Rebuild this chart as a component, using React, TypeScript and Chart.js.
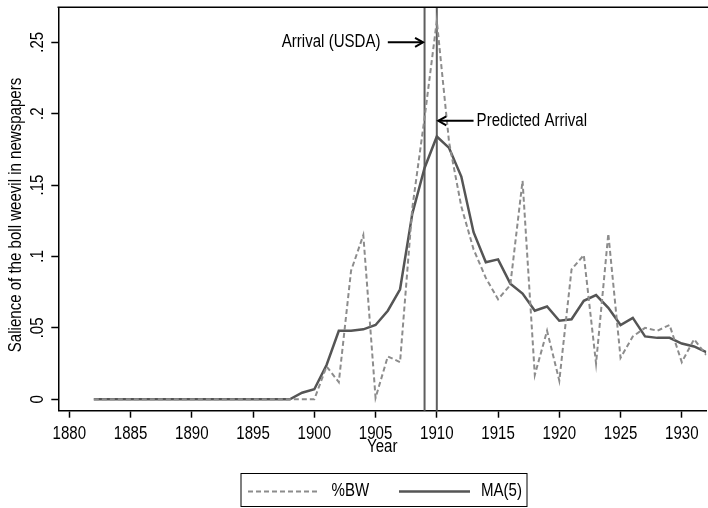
import React, { useEffect, useRef } from "react";
import { Chart, registerables } from "chart.js";

Chart.register(...registerables);

// ---------- data ----------
const years = [
  1882, 1883, 1884, 1885, 1886, 1887, 1888, 1889, 1890, 1891, 1892, 1893, 1894,
  1895, 1896, 1897, 1898, 1899, 1900, 1901, 1902, 1903, 1904, 1905, 1906, 1907,
  1908, 1909, 1910, 1911, 1912, 1913, 1914, 1915, 1916, 1917, 1918, 1919, 1920,
  1921, 1922, 1923, 1924, 1925, 1926, 1927, 1928, 1929, 1930, 1931, 1932,
];

// %BW (dashed)
const bwShare = [
  0, 0, 0, 0, 0, 0, 0, 0, 0, 0, 0, 0, 0,
  0, 0, 0, 0, 0, 0, 0.023, 0.012, 0.09, 0.115, 0.001, 0.03, 0.026,
  0.134, 0.197, 0.265, 0.18, 0.135, 0.105, 0.085, 0.07, 0.08, 0.153, 0.017, 0.048, 0.013,
  0.091, 0.101, 0.025, 0.116, 0.029, 0.044, 0.05, 0.048, 0.052, 0.026, 0.042, 0.031,
];

// MA(5) (solid)
const ma5 = [
  0, 0, 0, 0, 0, 0, 0, 0, 0, 0, 0, 0, 0,
  0, 0, 0, 0, 0.0046, 0.007, 0.024, 0.048, 0.048, 0.049, 0.052, 0.062, 0.077,
  0.13, 0.162, 0.184, 0.176, 0.156, 0.117, 0.096, 0.098, 0.081, 0.074, 0.062, 0.065, 0.055,
  0.056, 0.069, 0.073, 0.064, 0.052, 0.057, 0.044, 0.043, 0.043, 0.039, 0.037, 0.033,
];

const xTickValues = [1880, 1885, 1890, 1895, 1900, 1905, 1910, 1915, 1920, 1925, 1930];
const xTickLabels = ["1880", "1885", "1890", "1895", "1900", "1905", "1910", "1915", "1920", "1925", "1930"];
const yTickValues = [0, 0.05, 0.1, 0.15, 0.2, 0.25];
const yTickLabels = ["0", ".05", ".1", ".15", ".2", ".25"];

const seriesLabels = ["%BW", "MA(5)"];
const xTitle = "Year";
const yTitle = "Salience of the boll weevil in newspapers";

const arrivalUSDA = 1909;
const predictedArrival = 1910;
const usdaNote = "Arrival (USDA)";
const predictedNote = "Predicted Arrival";

// ---------- styling ----------
const FONT_FAMILY = '"Liberation Sans", Arial, Helvetica, sans-serif';
const FONT_SIZE = 17.5;
const SX = 0.86; // horizontal condensing of text
const DASH_COLOR = "#8c8c8c";
const SOLID_COLOR = "#555555";
const VLINE_COLOR = "#5e5e5e";

function drawText(
  ctx: CanvasRenderingContext2D,
  text: string,
  x: number,
  y: number,
  align: CanvasTextAlign,
  rotated = false
) {
  ctx.save();
  ctx.translate(x, y);
  if (rotated) ctx.rotate(-Math.PI / 2);
  ctx.scale(SX, 1);
  ctx.textAlign = align;
  ctx.textBaseline = "middle";
  ctx.fillText(text, 0, 0);
  ctx.restore();
}

function drawArrow(
  ctx: CanvasRenderingContext2D,
  x1: number, y1: number, x2: number, y2: number
) {
  const ang = Math.atan2(y2 - y1, x2 - x1);
  const L = 8, W = 4.5;
  ctx.beginPath();
  ctx.moveTo(x1, y1);
  ctx.lineTo(x2, y2);
  ctx.stroke();
  ctx.beginPath();
  ctx.moveTo(x2 - L * Math.cos(ang) + W * Math.sin(ang), y2 - L * Math.sin(ang) - W * Math.cos(ang));
  ctx.lineTo(x2, y2);
  ctx.lineTo(x2 - L * Math.cos(ang) - W * Math.sin(ang), y2 - L * Math.sin(ang) + W * Math.cos(ang));
  ctx.stroke();
}

export default function App() {
  const ref = useRef<HTMLCanvasElement | null>(null);

  useEffect(() => {
    const canvas = ref.current;
    if (!canvas) return;
    const fontStr = `${FONT_SIZE}px ${FONT_FAMILY}`;

    const decor = {
      id: "decor",
      beforeDatasetsDraw(chart: any) {
        const { ctx, chartArea, scales } = chart;
        ctx.save();
        ctx.strokeStyle = VLINE_COLOR;
        ctx.lineWidth = 2;
        [arrivalUSDA, predictedArrival].forEach((yr) => {
          const px = scales.x.getPixelForValue(yr);
          ctx.beginPath();
          ctx.moveTo(px, chartArea.top);
          ctx.lineTo(px, chartArea.bottom);
          ctx.stroke();
        });
        ctx.restore();
      },
      afterDraw(chart: any) {
        const { ctx, chartArea, scales } = chart;
        const xs = scales.x, ys = scales.y;
        ctx.save();
        // top border of plot region
        ctx.strokeStyle = "#000";
        ctx.lineWidth = 1.5;
        ctx.beginPath();
        ctx.moveTo(chartArea.left - 0.75, chartArea.top);
        ctx.lineTo(chartArea.right + 2, chartArea.top);
        ctx.stroke();

        ctx.fillStyle = "#000";
        ctx.font = fontStr;

        // tick labels (positions from the library's scales)
        xs.ticks.forEach((t: any, i: number) => {
          drawText(ctx, xTickLabels[i], xs.getPixelForValue(t.value), chartArea.bottom + 23.5, "center");
        });
        ys.ticks.forEach((t: any, i: number) => {
          drawText(ctx, yTickLabels[i], chartArea.left - 20, ys.getPixelForValue(t.value), "center", true);
        });

        // annotations
        ctx.lineWidth = 2;
        ctx.strokeStyle = "#000";
        const yU = ys.getPixelForValue(0.25);
        drawArrow(ctx, xs.getPixelForValue(1906.0), yU, xs.getPixelForValue(arrivalUSDA) - 1.5, yU);
        drawText(ctx, usdaNote, xs.getPixelForValue(1905.4), yU, "right");

        const yP = ys.getPixelForValue(0.195);
        drawArrow(ctx, xs.getPixelForValue(1913.0), yP, xs.getPixelForValue(predictedArrival) + 1.5, yP);
        drawText(ctx, predictedNote, xs.getPixelForValue(1913.25), yP, "left");

        // axis titles
        drawText(ctx, xTitle, (chartArea.left + chartArea.right) / 2, 447, "center");
        drawText(ctx, yTitle, 16, (chartArea.top + chartArea.bottom) / 2 + 6, "center", true);

        // legend
        const lx0 = 241, lx1 = 527, ly0 = 473.5, ly1 = 506.5;
        ctx.fillStyle = "#fff";
        ctx.fillRect(lx0, ly0, lx1 - lx0, ly1 - ly0);
        ctx.strokeStyle = "#000";
        ctx.lineWidth = 1;
        ctx.strokeRect(lx0, ly0, lx1 - lx0, ly1 - ly0);
        const ly = 491.5;
        ctx.lineWidth = 2;
        ctx.strokeStyle = DASH_COLOR;
        ctx.setLineDash([5, 3]);
        ctx.beginPath();
        ctx.moveTo(248, ly);
        ctx.lineTo(318, ly);
        ctx.stroke();
        ctx.setLineDash([]);
        ctx.strokeStyle = SOLID_COLOR;
        ctx.lineWidth = 2.5;
        ctx.beginPath();
        ctx.moveTo(399, ly);
        ctx.lineTo(470, ly);
        ctx.stroke();
        ctx.fillStyle = "#000";
        drawText(ctx, seriesLabels[0], 331.5, ly, "left");
        drawText(ctx, seriesLabels[1], 481, ly, "left");
        ctx.restore();
      },
    };

    const chart = new Chart(canvas, {
      type: "line",
      data: {
        datasets: [
          {
            label: seriesLabels[0],
            data: years.map((yr, i) => ({ x: yr, y: bwShare[i] })),
            borderColor: DASH_COLOR,
            borderWidth: 2,
            borderDash: [5, 3],
            pointRadius: 0,
            fill: false,
            tension: 0,
          },
          {
            label: seriesLabels[1],
            data: years.map((yr, i) => ({ x: yr, y: ma5[i] })),
            borderColor: SOLID_COLOR,
            borderWidth: 2.5,
            pointRadius: 0,
            fill: false,
            tension: 0,
          },
        ],
      },
      options: {
        animation: false,
        responsive: false,
        devicePixelRatio: 1,
        layout: { padding: { left: 0, top: 7.3, right: 1.7, bottom: 0 } },
        plugins: { legend: { display: false }, tooltip: { enabled: false } },
        scales: {
          x: {
            type: "linear",
            min: 1879.1,
            max: 1932,
            afterBuildTicks: (s: any) => {
              s.ticks = xTickValues.map((v) => ({ value: v }));
            },
            afterFit: (s: any) => {
              s.height = 97.3;
            },
            ticks: { display: false, autoSkip: false },
            grid: { drawOnChartArea: false, tickLength: 7, tickColor: "#000", tickWidth: 1.5 },
            border: { color: "#000", width: 1.5 },
          },
          y: {
            type: "linear",
            min: -0.008,
            max: 0.2745,
            afterBuildTicks: (s: any) => {
              s.ticks = yTickValues.map((v) => ({ value: v }));
            },
            afterFit: (s: any) => {
              s.width = 58.3;
            },
            ticks: { display: false, autoSkip: false },
            grid: { drawOnChartArea: false, tickLength: 7, tickColor: "#000", tickWidth: 1.5 },
            border: { color: "#000", width: 1.5 },
          },
        },
      },
      plugins: [decor],
    } as any);

    return () => chart.destroy();
  }, []);

  return (
    <div style={{ position: "fixed", left: 0, top: 0, width: 708, height: 508, background: "#fff" }}>
      <canvas ref={ref} width={708} height={508} style={{ width: 708, height: 508, display: "block" }} />
    </div>
  );
}
